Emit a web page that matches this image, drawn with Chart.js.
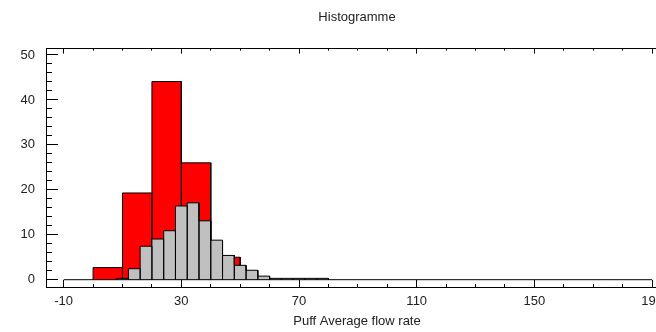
<!DOCTYPE html>
<html>
<head>
<meta charset="utf-8">
<script src="https://cdn.jsdelivr.net/npm/chart.js@4/dist/chart.umd.min.js"></script>
<style>
  html, body { margin: 0; padding: 0; background: #fff; overflow: hidden; }
  #wrap { width: 680px; height: 332px; }
</style>
</head>
<body>
<div id="wrap"><canvas id="histo" width="680" height="332"></canvas></div>
<script>
// red histogram: bins of 10
const redEdges = [0, 10, 20, 30, 40, 50, 60];
const redValues = [2.7, 19.3, 44.1, 26.0, 5.0, 0.5];

// grey histogram: bins of 4
const greyEdges = [8, 12, 16, 20, 24, 28, 32, 36, 40, 44, 48, 52, 56, 60, 64, 68, 72, 76, 80];
const greyValues = [0.3, 2.45, 7.45, 9.05, 10.9, 16.4, 17.1, 13.1, 8.8, 5.4, 3.2, 2.1, 0.8, 0.3, 0.3, 0.3, 0.3, 0.3];

// zero line under the histograms
const baseRange = [-10, 190];

// axis ticks
const xMajor = [-10, 30, 70, 110, 150, 190];
const xMinor = [];
for (let v = -10; v <= 190; v += 10) xMinor.push(v);
const yMajor = [0, 10, 20, 30, 40, 50];
const yMinor = [];
for (let v = 0; v <= 50; v += 2) yMinor.push(v);

const xMin = -16, xMax = 195.4;
const yMin = -1.62, yMax = 51.42;

// outline of a histogram as one path (goes back to 0 between bins so the dividers are drawn)
function histPath(edges, values) {
  const pts = [{x: edges[0], y: 0}];
  values.forEach((v, i) => {
    pts.push({x: edges[i], y: v}, {x: edges[i + 1], y: v}, {x: edges[i + 1], y: 0});
  });
  return pts;
}

Chart.defaults.font.family = "'Liberation Sans', Arial, sans-serif";
Chart.defaults.font.size = 13;
Chart.defaults.color = '#222';

function setTicks(list) {
  return function(scale) { scale.ticks = list.map(v => ({value: v})); };
}
function fixH(h) { return function(scale) { scale.height = h; scale.paddingLeft = 0; scale.paddingRight = 0; }; }
function fixW(w) { return function(scale) { scale.width = w; scale.paddingTop = 0; scale.paddingBottom = 0; }; }

function xAxis(pos, ticksList, len, weight, labels, border, h) {
  return {
    type: 'linear', position: pos, min: xMin, max: xMax, weight: weight,
    afterBuildTicks: setTicks(ticksList),
    afterFit: fixH(h),
    grid: {drawOnChartArea: false, color: '#000', tickLength: -len, tickWidth: 1},
    border: {display: border, color: '#000', width: 1},
    ticks: {display: labels, padding: 14, maxRotation: 0, autoSkip: false}
  };
}

const scales = {
  x: Object.assign(xAxis('bottom', xMajor, 7, 1, true, true, 45), {
    title: {display: true, text: 'Puff Average flow rate', padding: {top: 0, bottom: 3}}
  }),
  xMin: xAxis('bottom', xMinor, 3, 0, false, false, 0),
  xTop: xAxis('top', xMajor, 5, 1, false, true, 0),
  xTopMin: xAxis('top', xMinor, 2, 0, false, false, 0),
  y: {
    type: 'linear', position: 'left', min: yMin, max: yMax, weight: 1,
    afterBuildTicks: setTicks(yMajor),
    afterFit: fixW(46),
    grid: {drawOnChartArea: false, color: '#000', tickLength: -12},
    border: {display: true, color: '#000', width: 1},
    ticks: {padding: 23}
  },
  yMin: {
    type: 'linear', position: 'left', min: yMin, max: yMax, weight: 0,
    afterBuildTicks: setTicks(yMinor),
    afterFit: fixW(0),
    grid: {drawOnChartArea: false, color: '#000', tickLength: -6},
    border: {display: false},
    ticks: {display: false}
  }
};

new Chart(document.getElementById('histo'), {
  type: 'line',
  data: {
    datasets: [
      {
        label: 'base',
        data: baseRange.map(v => ({x: v, y: 0})),
        borderColor: '#000', borderWidth: 1, pointRadius: 0, fill: false, order: 0
      },
      {
        label: 'grey',
        data: histPath(greyEdges, greyValues),
        borderColor: '#000', borderWidth: 1, backgroundColor: '#c0c0c0',
        pointRadius: 0, fill: 'origin', order: 1
      },
      {
        label: 'red',
        data: histPath(redEdges, redValues),
        borderColor: '#000', borderWidth: 1, backgroundColor: '#ff0000',
        pointRadius: 0, fill: 'origin', order: 2
      }
    ]
  },
  options: {
    responsive: false,
    animation: false,
    layout: {padding: {left: 0, right: 12, top: 0, bottom: 0}},
    plugins: {
      legend: {display: false},
      tooltip: {enabled: false},
      title: {
        display: true, text: 'Histogramme', fullSize: false,
        font: {size: 13, weight: 'normal'}, color: '#222',
        padding: {top: 10, bottom: 23}
      }
    },
    scales: scales
  }
});
</script>
</body>
</html>
